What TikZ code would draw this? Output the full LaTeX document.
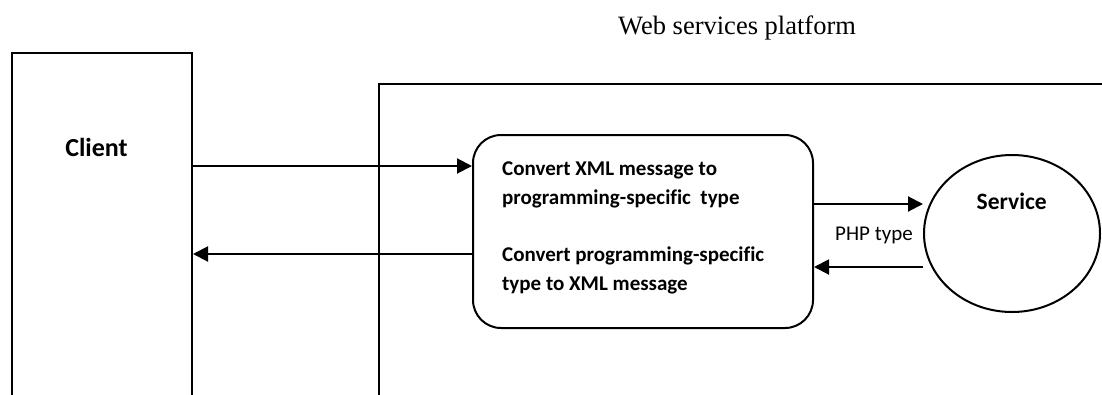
\documentclass[tikz,border=0pt]{standalone}
\usepackage{fontspec}
\setmainfont{Liberation Serif}
\newfontfamily\calfont[Ligatures={TeX,NoCommon}]{Carlito}
\usetikzlibrary{arrows.meta,shapes.geometric}
\tikzset{
  frame/.style={draw, line width=2pt, inner sep=0pt, anchor=north west},
  flow/.style={line width=2pt, -{Triangle[length=15pt,width=15pt]}},
  boxtext/.style={anchor=base west, inner sep=0pt, font=\calfont\bfseries\fontsize{21}{25}\selectfont},
}
\begin{document}
\begin{tikzpicture}[x=1pt,y=-1pt]
\useasboundingbox (0,0) rectangle (1102,394);
\clip (0,0) rectangle (1102,394);
\fill[white] (0,0) rectangle (1102,394);

% title of the platform area
\node[anchor=base west, inner sep=0pt, font=\fontsize{26.5}{30}\selectfont] (title) at (618,34) {Web services platform};

% client column and platform frame (both run past the lower edge)
\node[frame, minimum width=180pt, minimum height=380pt] (client) at (11,52) {};
\node[frame, minimum width=760pt, minimum height=350pt] (platform) at (378,83) {};
\node[anchor=base, inner sep=0pt, font=\calfont\bfseries\fontsize{26}{30}\selectfont] (clientlbl) at (96.5,156) {Client};

% conversion box
\node[draw, line width=2pt, rounded corners=28pt, minimum width=340pt, minimum height=193pt] (conv) at (643,231.5) {};
\node[boxtext] (t1) at (502,175) {Convert XML message to};
\node[boxtext] (t2) at (502,204) {programming-specific\ \ type};
\node[boxtext] (t3) at (502,261) {Convert programming-specific};
\node[boxtext] (t4) at (502,290) {type to XML message};

% service
\node[draw, ellipse, line width=2pt, minimum width=176pt, minimum height=157pt, inner sep=0pt] (svc) at (1012,233.5) {};
\node[anchor=base, inner sep=0pt, font=\calfont\bfseries\fontsize{23.5}{28}\selectfont] (svclbl) at (1011.7,209) {Service};
\node[anchor=base, inner sep=0pt, font=\calfont\fontsize{21}{25}\selectfont] (php) at (874,240) {PHP type};

% message flow
\coordinate (r1) at (0,166);
\coordinate (r2) at (0,254);
\coordinate (r3) at (0,204);
\coordinate (r4) at (0,267);
\draw[flow] (client.east |- r1) -- (conv.west |- r1);
\draw[flow] (conv.west |- r2) -- (client.east |- r2);
\draw[flow] (conv.east |- r3) -- (svc.west |- r3);
\draw[flow] (svc.west |- r4) -- (conv.east |- r4);
\end{tikzpicture}
\end{document}
